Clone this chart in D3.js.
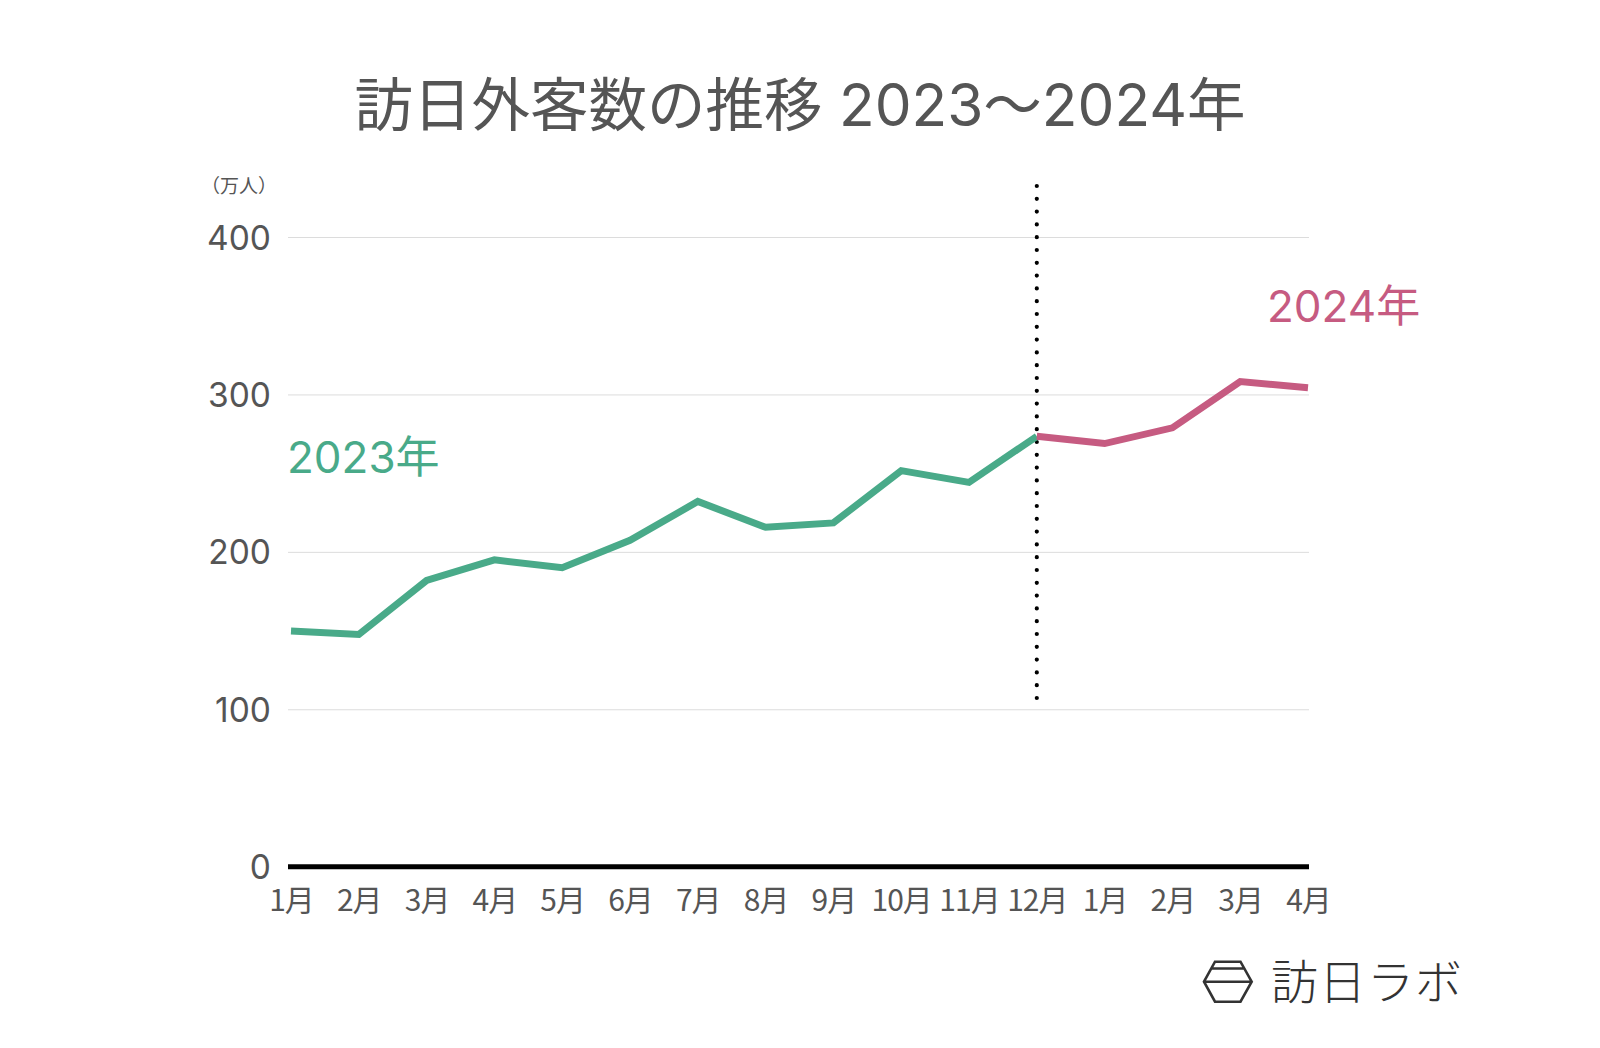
<!DOCTYPE html>
<html>
<head>
<meta charset="utf-8">
<script src="https://cdn.jsdelivr.net/npm/d3@7"></script>
<style>
  html, body { margin: 0; padding: 0; background: #fff; }
  svg { display: block; font-family: "Noto Sans CJK JP", "Noto Sans", sans-serif; }
</style>
</head>
<body>
<svg id="chart" width="1600" height="1048"></svg>
<script>
// ---- Data ----
const monthLabels = ["1月","2月","3月","4月","5月","6月","7月","8月","9月","10月","11月","12月","1月","2月","3月","4月"];
const values2023 = [149.7, 147.5, 181.8, 194.9, 189.9, 207.3, 232.0, 215.6, 218.4, 251.6, 244.1, 273.4];
const values2024 = [268.8, 278.8, 308.2, 304.3];
const yTicks = [0, 100, 200, 300, 400];
const titleText = "訪日外客数の推移 2023〜2024年";
const unitText = "（万人）";
const label2023 = "2023年";
const label2024 = "2024年";
const logoText = "訪日ラボ";

// ---- Layout ----
const svg = d3.select("#chart");
const x = d3.scalePoint().domain(d3.range(monthLabels.length)).range([291, 1308]);
const y = d3.scaleLinear().domain([0, 400]).range([866.7, 237]);
const gridLeft = 288, gridRight = 1309;
const green = "#49aa89", pink = "#c65b81", textGray = "#555555";
const digitFont = "Inter, \"Noto Sans CJK JP\", sans-serif";
const cjkFont = "\"Noto Sans CJK JP\", sans-serif";

// Title
svg.append("text")
  .attr("x", 800).attr("y", 126)
  .attr("text-anchor", "middle")
  .attr("font-size", 58.5)
  .style("font-family", digitFont)
  .attr("fill", textGray)
  .text(titleText);

// Unit label
svg.append("text")
  .attr("x", 201).attr("y", 193)
  .attr("font-size", 19)
  .style("font-family", cjkFont)
  .attr("fill", textGray)
  .text(unitText);

// Y axis with gridlines
const yAxis = d3.axisLeft(y)
  .tickValues(yTicks)
  .tickSize(-(gridRight - gridLeft))
  .tickPadding(17)
  .tickFormat(d3.format("d"));
const gy = svg.append("g")
  .attr("transform", `translate(${gridLeft},0)`)
  .call(yAxis);
gy.select(".domain").remove();
gy.selectAll(".tick line").attr("stroke", "#dcdcdc").attr("stroke-width", 1);
gy.selectAll(".tick text")
  .attr("font-size", 33.5)
  .attr("fill", textGray)
  .style("font-family", digitFont)
  .attr("dy", "0.36em");

// Zero baseline
svg.append("line")
  .attr("x1", gridLeft).attr("x2", gridRight)
  .attr("y1", y(0)).attr("y2", y(0))
  .attr("stroke", "#000").attr("stroke-width", 5);

// X axis labels
const xAxis = d3.axisBottom(x)
  .tickSize(0)
  .tickPadding(23)
  .tickFormat(i => monthLabels[i]);
const gx = svg.append("g")
  .attr("transform", `translate(0,${y(0)})`)
  .call(xAxis);
gx.select(".domain").remove();
gx.selectAll(".tick text")
  .attr("font-size", 30)
  .attr("fill", textGray)
  .style("font-family", cjkFont)
  .attr("letter-spacing", -1);

// Dotted separator at 12月
const sepX = x(11);
svg.append("line")
  .attr("x1", sepX).attr("x2", sepX)
  .attr("y1", 186).attr("y2", 699)
  .attr("stroke", "#000")
  .attr("stroke-width", 4.2)
  .attr("stroke-linecap", "round")
  .attr("stroke-dasharray", "0 12.8");

// Lines
const line = d3.line().x(d => x(d.i)).y(d => y(d.v));
const data2023 = values2023.map((v, i) => ({ i, v }));
const data2024 = [{ i: 11, v: values2023[11] }].concat(values2024.map((v, k) => ({ i: 12 + k, v })));

svg.append("path")
  .datum(data2023)
  .attr("d", line)
  .attr("fill", "none")
  .attr("stroke", green)
  .attr("stroke-width", 7)
  .attr("stroke-linejoin", "miter");

svg.append("path")
  .datum(data2024)
  .attr("d", line)
  .attr("fill", "none")
  .attr("stroke", pink)
  .attr("stroke-width", 7)
  .attr("stroke-linejoin", "miter");

// Series labels
svg.append("text")
  .attr("x", 287).attr("y", 473)
  .attr("font-size", 44)
  .style("font-family", digitFont)
  .attr("fill", green)
  .text(label2023);

svg.append("text")
  .attr("x", 1267).attr("y", 322)
  .attr("font-size", 44)
  .style("font-family", digitFont)
  .attr("fill", pink)
  .text(label2024);

// Logo
const logo = svg.append("g");
logo.append("path")
  .attr("d", "M1204,981.7 L1215,961.7 L1240.5,961.7 L1251.7,981.7 L1240.5,1001.7 L1215,1001.7 Z M1211.5,968.5 L1244,968.5 M1204,981.7 L1251.7,981.7")
  .attr("fill", "none")
  .attr("stroke", "#333")
  .attr("stroke-width", 2.6)
  .attr("stroke-linejoin", "miter");
logo.append("text")
  .attr("x", 1271).attr("y", 999)
  .attr("font-size", 47)
  .attr("font-weight", 200)
  .attr("letter-spacing", 1)
  .style("font-family", cjkFont)
  .attr("fill", "#333")
  .text(logoText);
</script>
</body>
</html>
